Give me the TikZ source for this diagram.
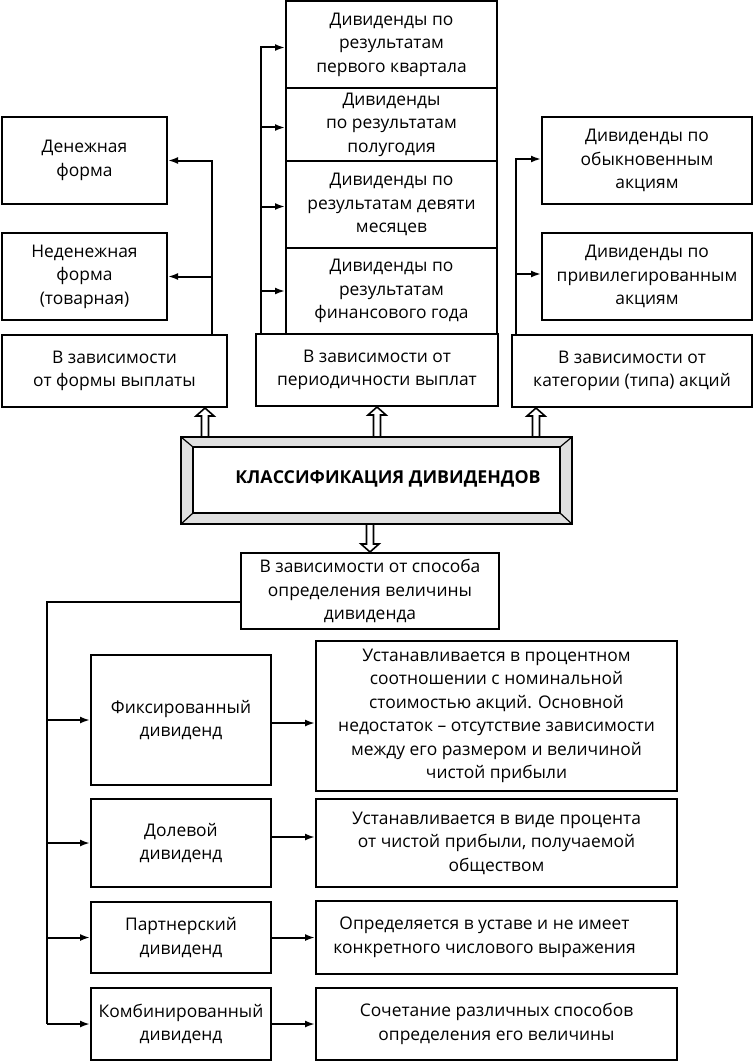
\documentclass[tikz,border=0pt]{standalone}
\usepackage{fontspec}
\setmainfont{Open Sans}
\usetikzlibrary{arrows.meta,calc}
\tikzset{
  bx/.style={draw, line width=2pt, align=center, inner sep=0pt, font=\fontsize{17.4}{23.5}\selectfont},
  arr/.style={line width=2pt, -{Latex[length=10pt,width=7pt]}},
  harr/.style={line width=1.6pt, line join=miter}
}
\newcommand\hollowarrow[2]{%
  \coordinate (ha) at (#1); \coordinate (hb) at (#2);
  \coordinate (hc) at ($(hb)!8pt!(ha)$);
  \draw[harr] ($(ha)!3.5pt!90:(hb)$) -- ($(hc)!3.5pt!90:(hb)$) -- ($(hc)!9pt!90:(hb)$)
    -- (hb) -- ($(hc)!9pt!-90:(hb)$) -- ($(hc)!3.5pt!-90:(hb)$) -- ($(ha)!3.5pt!-90:(hb)$);
}
\begin{document}
\begin{tikzpicture}[x=1pt,y=-1pt]
\useasboundingbox (0,0) rectangle (753,1062);
% left column
\node[bx, minimum width=165, minimum height=87] (den) at (84.5,160.5) {Денежная\\форма};
\node[bx, minimum width=165, minimum height=87] (neden) at (84.5,276.5) {Неденежная\\форма\\(товарная)};
\node[bx, minimum width=225, minimum height=72] (formb) at (114.5,371) {В зависимости\\от формы выплаты};
% middle column
\node[bx, minimum width=211, minimum height=87] (p1) at (391.5,44.5) {Дивиденды по\\результатам\\первого квартала};
\node[bx, minimum width=211, minimum height=73] (p2) at (391.5,124.5) {Дивиденды\\по результатам\\полугодия};
\node[bx, minimum width=211, minimum height=87] (p3) at (391.5,204.5) {Дивиденды по\\результатам девяти\\месяцев};
\node[bx, minimum width=211, minimum height=86] (p4) at (391.5,291) {Дивиденды по\\результатам\\финансового года};
\node[bx, minimum width=242, minimum height=72] (perb) at (377,370) {В зависимости от\\периодичности выплат};
% right column
\node[bx, minimum width=210, minimum height=87] (ob) at (647,160.5) {Дивиденды по\\обыкновенным\\акциям};
\node[bx, minimum width=210, minimum height=87] (pr) at (647,276.5) {Дивиденды по\\привилегированным\\акциям};
\node[bx, minimum width=240, minimum height=72] (catb) at (632,371) {В зависимости от\\категории (типа) акций};
% central bevelled box
\node[minimum width=391, minimum height=87, inner sep=0pt] (cls) at (376.5,480.5) {};
\fill[gray!25] (cls.north west) rectangle (cls.south east);
\fill[white] (193,447) rectangle (560,513);
\draw[line width=2pt, line join=miter] (cls.north west) rectangle (cls.south east);
\draw[line width=1.6pt] (193,447) rectangle (560,513);
\draw[line width=1.2pt] (cls.north west) -- (193,447) (cls.north east) -- (560,447)
  (cls.south west) -- (193,513) (cls.south east) -- (560,513);
\node[font=\fontsize{17.8}{22}\selectfont\bfseries] (clst) at (388,479) {КЛАССИФИКАЦИЯ ДИВИДЕНДОВ};
% bottom part
\node[bx, minimum width=258, minimum height=76] (meth) at (370,591) {В зависимости от способа\\определения величины\\дивиденда};
\node[bx, minimum width=180, minimum height=130] (fix) at (181,720) {Фиксированный\\дивиденд};
\node[bx, minimum width=180, minimum height=88] (dol) at (181,843) {Долевой\\дивиденд};
\node[bx, minimum width=180, minimum height=71] (par) at (181,937.5) {Партнерский\\дивиденд};
\node[bx, minimum width=180, minimum height=72] (com) at (181,1024) {Комбинированный\\дивиденд};
\node[bx, minimum width=361, minimum height=150] (fixd) at (496.5,716) {Устанавливается в процентном\\соотношении с номинальной\\стоимостью акций. Основной\\недостаток -- отсутствие зависимости\\между его размером и величиной\\чистой прибыли};
\node[bx, minimum width=361, minimum height=88] (dold) at (496.5,843) {Устанавливается в виде процента\\от чистой прибыли, получаемой\\обществом};
\node[bx, minimum width=361, minimum height=73] (pard) at (496.5,937.5) {\hspace*{-24pt}Определяется в уставе и не имеет\\\hspace*{-24pt}конкретного числового выражения};
\node[bx, minimum width=361, minimum height=72] (comd) at (496.5,1024) {Сочетание различных способов\\определения его величины};
% connectors left
\draw[arr] ([xshift=-16pt]formb.north east) |- (den.east);
\draw[arr] ([xshift=-16pt]formb.north east) |- (neden.east);
% middle
\draw[arr] ([xshift=6pt]perb.north west) |- ([yshift=-3pt]p1.west);
\draw[arr] ([xshift=6pt]perb.north west) |- ([yshift=-3pt]p2.west);
\draw[arr] ([xshift=6pt]perb.north west) |- ([yshift=-2pt]p3.west);
\draw[arr] ([xshift=6pt]perb.north west) |- (p4.west);
% right
\draw[arr] ([xshift=5pt]catb.north west) |- ([yshift=1.5pt]ob.west);
\draw[arr] ([xshift=5pt]catb.north west) |- ([yshift=2.5pt]pr.west);
% bottom tree
\coordinate (tk) at (47,602);
\draw[line width=2pt] ([yshift=-11pt]meth.west) -- (tk) -- (tk |- com.west);
\draw[arr] (tk |- fix.west) -- (fix.west);
\draw[arr] (tk |- dol.west) -- (dol.west);
\draw[arr] (tk |- par.west) -- (par.west);
\draw[arr] (tk |- com.west) -- (com.west);
\draw[arr] ([yshift=-3pt]fix.east) -- ([yshift=-3pt]fix.east -| fixd.west);
\draw[arr] ([yshift=6pt]dol.east) -- ([yshift=6pt]dol.east -| dold.west);
\draw[arr] (par.east) -- (par.east -| pard.west);
\draw[arr] (com.east) -- (com.east -| comd.west);
% hollow arrows
\hollowarrow{cls.north -| 205,0}{formb.south -| 205,0}
\hollowarrow{cls.north -| perb.south}{perb.south}
\hollowarrow{cls.north -| 536,0}{catb.south -| 536,0}
\hollowarrow{cls.south -| meth.north}{meth.north}
\end{tikzpicture}
\end{document}
